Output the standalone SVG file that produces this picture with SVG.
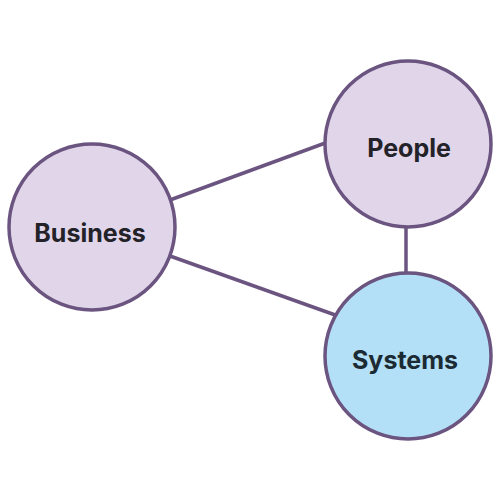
<svg xmlns="http://www.w3.org/2000/svg" width="500" height="500" viewBox="0 0 500 500">
<style>
.edge{stroke:#6b5580;stroke-width:3.5;fill:none}
.node{stroke:#6b5580;stroke-width:3.5}
.purple{fill:#e0d5e9}
.blue{fill:#b3e0f6}
.label{font-family:Inter,"Liberation Sans",sans-serif;font-weight:bold;font-size:25px;text-anchor:middle;dominant-baseline:central;fill:#222228}
</style>
<rect width="500" height="500" fill="#ffffff"/>
<g id="connectors">
<line class="edge" x1="170" y1="200" x2="328" y2="142"/>
<line class="edge" x1="170" y1="256" x2="338" y2="316"/>
<line class="edge" x1="406" y1="226" x2="406" y2="275"/>
</g>
<g id="business">
<circle class="node purple" cx="92" cy="227" r="83"/>
<text class="label" x="90" y="233">Business</text>
</g>
<g id="people">
<circle class="node purple" cx="408" cy="144" r="83"/>
<text class="label" x="409" y="148">People</text>
</g>
<g id="systems">
<circle class="node blue" cx="408" cy="356" r="83"/>
<text class="label" x="405" y="360" style="fill:#1c2a33">Systems</text>
</g>
</svg>
